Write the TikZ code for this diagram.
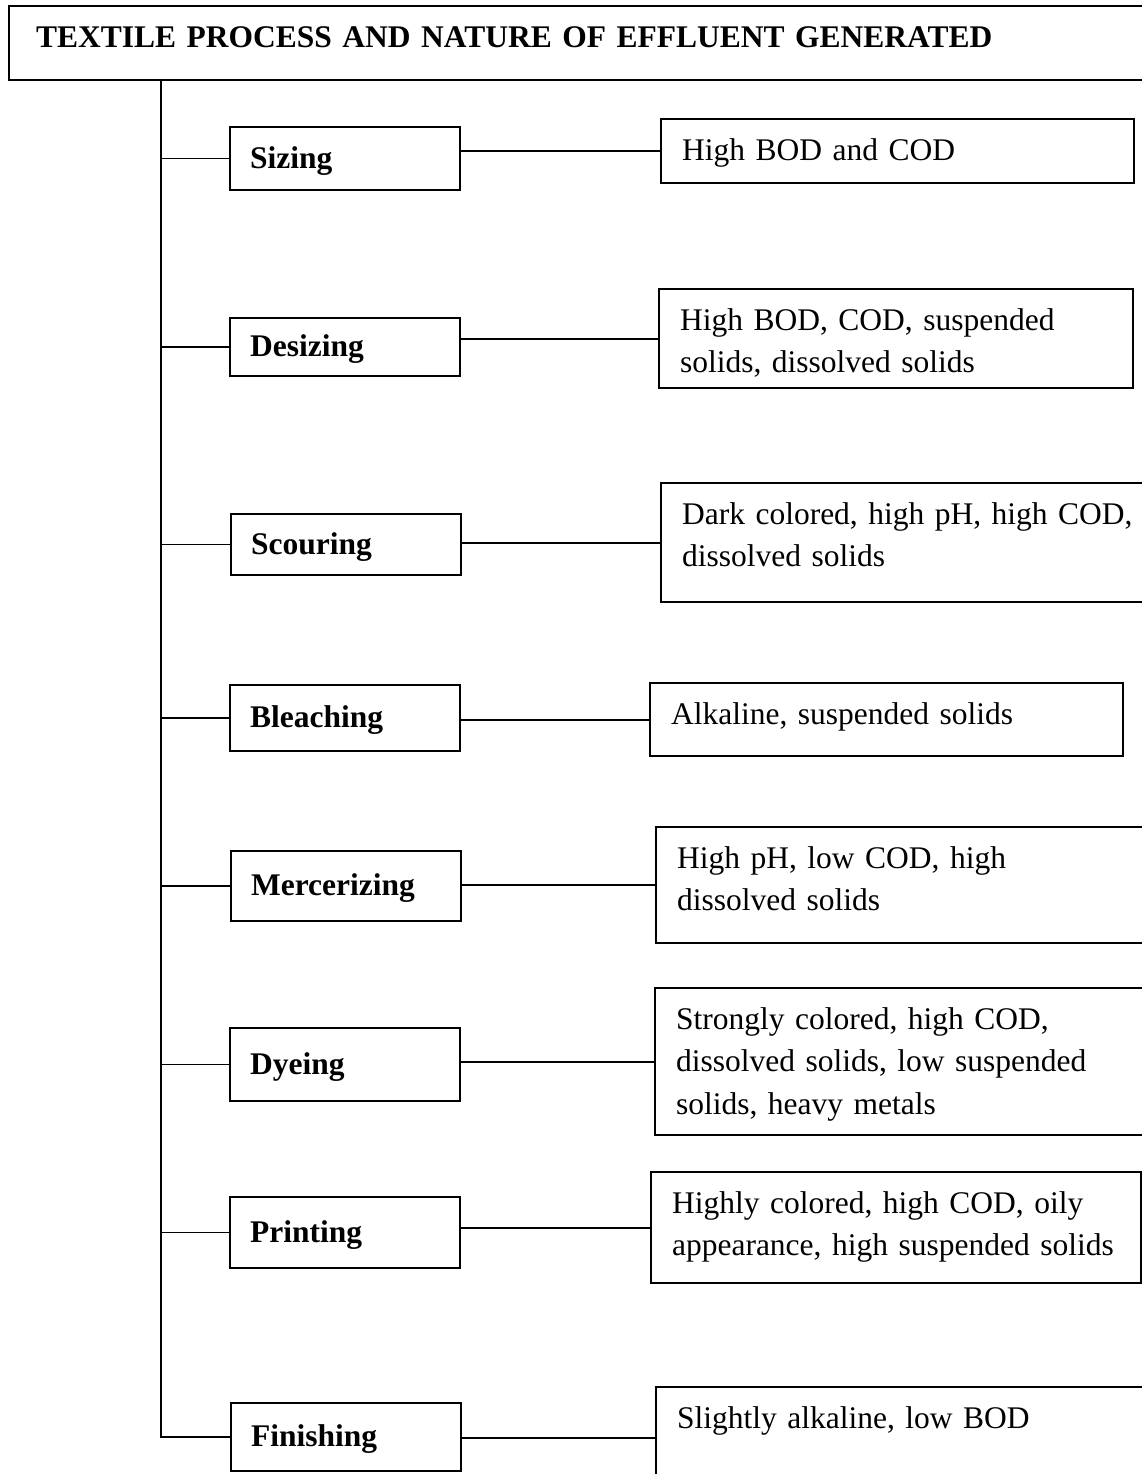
\documentclass[tikz,border=0pt]{standalone}
\usepackage{fontspec}
\setmainfont{Liberation Serif}
\tikzstyle{head}=[draw,line width=2.2pt,anchor=north west,inner xsep=27pt,inner ysep=0pt,text width=1146pt,align=left,text height=41pt,text depth=33pt,font=\fontsize{31.5pt}{42.5pt}\selectfont\bfseries]
\tikzstyle{proc}=[draw,line width=2.1pt,anchor=west,minimum width=230pt,text width=190pt,inner xsep=20pt,inner ysep=0pt,align=left,text height=24pt,text depth=5pt,font=\fontsize{31.5pt}{42.5pt}\selectfont\bfseries]
\tikzstyle{eff}=[draw,line width=2.1pt,anchor=north west,inner xsep=21pt,inner ysep=0pt,align=left,text height=41pt,font=\fontsize{31.5pt}{42.5pt}\selectfont]
\usetikzlibrary{positioning}

\begin{document}
\begin{tikzpicture}[x=1pt,y=-1pt,line width=1.9pt]
\useasboundingbox (0,0) rectangle (1142,1474);
\clip (0,0) rectangle (1142,1474);

\node[head] (title) at (8,5) {TEXTILE PROCESS AND NATURE OF EFFLUENT GENERATED};
\coordinate (trunk) at (161,79);

% processes
\node[proc,minimum height=63pt] (sizing) at (229,158.5) {Sizing};
\node[proc,minimum height=58pt] (desizing) at (229,347) {Desizing};
\node[proc,minimum height=61pt] (scouring) at (230,544.5) {Scouring};
\node[proc,minimum height=66pt] (bleaching) at (229,718) {Bleaching};
\node[proc,minimum height=70pt] (mercerizing) at (230,886) {Mercerizing};
\node[proc,minimum height=73pt] (dyeing) at (229,1064.5) {Dyeing};
\node[proc,minimum height=71pt] (printing) at (229,1232.5) {Printing};
\node[proc,minimum height=68pt] (finishing) at (230,1437) {Finishing};

% effluents
\node[eff,text width=431pt,text depth=23pt] (esizing) at (660,118) {High BOD and COD};
\node[eff,text width=432pt,text depth=58pt] (edesizing) at (658,288) {High BOD, COD, suspended\\solids, dissolved solids};
\node[eff,text width=470pt,text depth=78pt] (escouring) at (660,482) {Dark colored, high pH, high COD,\\dissolved solids};
\node[eff,text width=431pt,text depth=32pt] (ebleaching) at (649,682) {Alkaline, suspended solids};
\node[eff,text width=470pt,text depth=75pt] (emercerizing) at (655,826) {High pH, low COD, high\\dissolved solids};
\node[eff,text width=470pt,text depth=106pt] (edyeing) at (654,987) {Strongly colored, high COD,\\dissolved solids, low suspended\\solids, heavy metals};
\node[eff,text width=448pt,text depth=70pt] (eprinting) at (650,1171) {Highly colored, high COD, oily\\appearance, high suspended solids};
\node[eff,text width=470pt,text depth=61pt] (efinishing) at (655,1386) {Slightly alkaline, low BOD};

\draw (trunk) |- (finishing.west);
\foreach \p in {sizing,desizing,scouring,bleaching,mercerizing,dyeing,printing}
  \draw (trunk |- \p.west) -- (\p.west);
\foreach \p in {sizing,desizing,scouring,bleaching,mercerizing,dyeing,printing,finishing}
  \draw (\p.east |- e\p.west) -- (e\p.west);
\end{tikzpicture}
\end{document}
